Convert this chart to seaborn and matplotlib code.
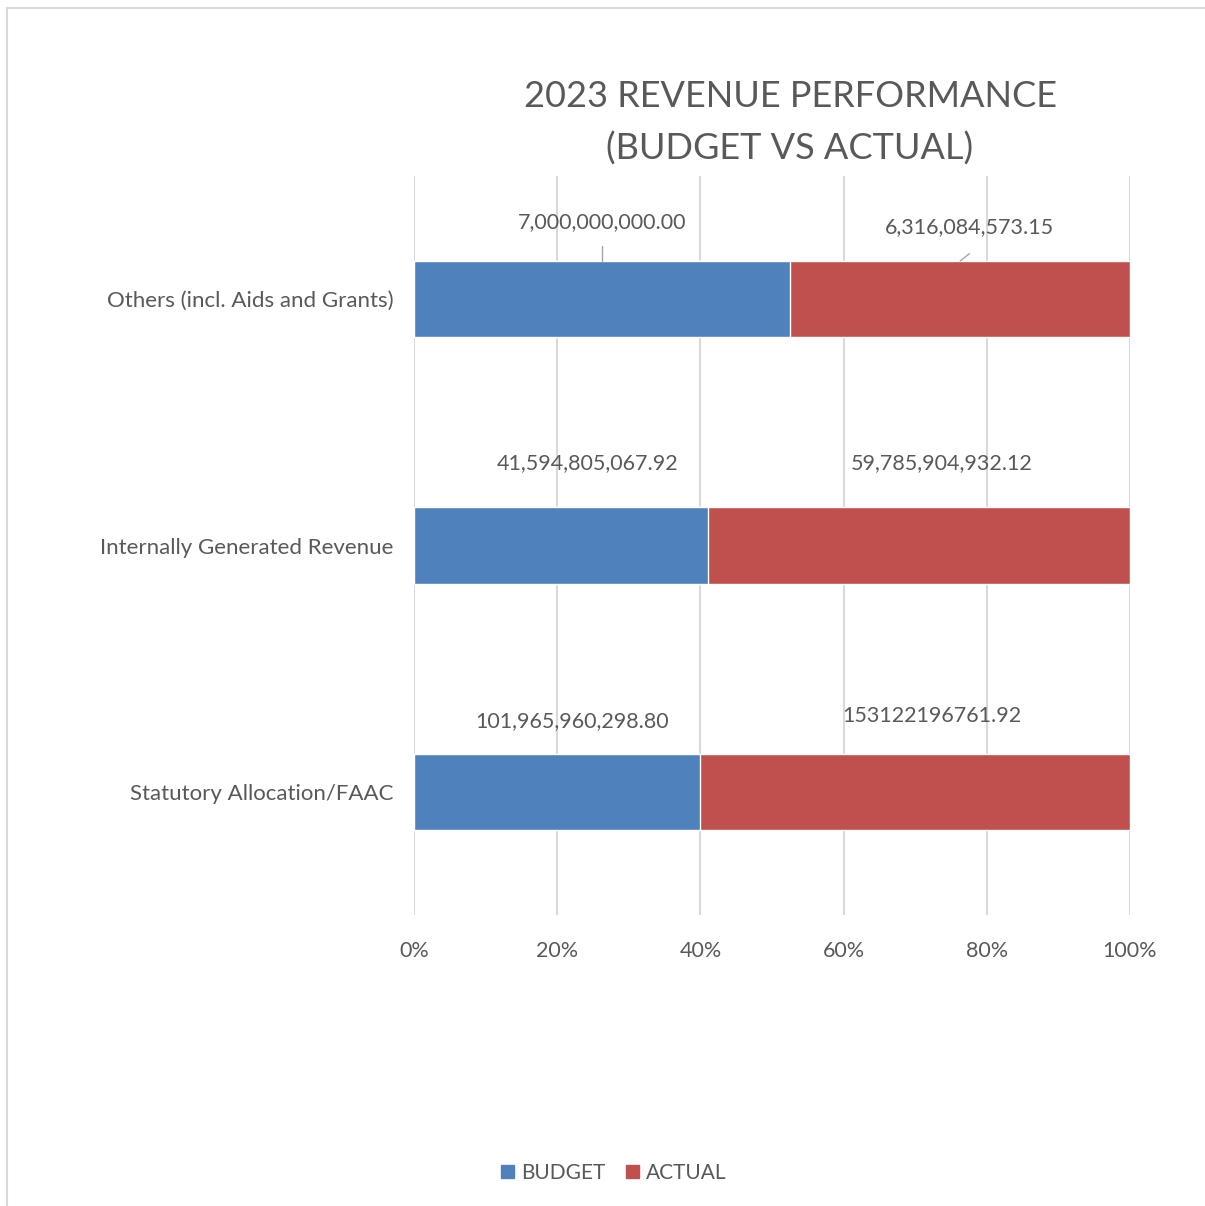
import matplotlib
matplotlib.use("Agg")
import matplotlib.pyplot as plt
import matplotlib.lines as mlines
import matplotlib.patches as mpatches
import seaborn as sns
import pandas as pd

categories = ["Others (incl. Aids and Grants)", "Internally Generated Revenue", "Statutory Allocation/FAAC"]
budget = [7000000000.00, 41594805067.92, 101965960298.80]
actual = [6316084573.15, 59785904932.12, 153122196761.92]
budget_labels = ["7,000,000,000.00", "41,594,805,067.92", "101,965,960,298.80"]
actual_labels = ["6,316,084,573.15", "59,785,904,932.12", "153122196761.92"]
ticks = [0, 20, 40, 60, 80, 100]

BLUE = "#4f81bd"
RED = "#c0504d"
TXT = "#595959"
GRID = "#d9d9d9"

df = pd.DataFrame({"category": categories, "budget": budget, "actual": actual})
df["total"] = df["budget"] + df["actual"]
df["budget_pct"] = df["budget"] / df["total"] * 100
df["full"] = 100.0

sns.set_theme(style="white")
plt.rcParams["font.family"] = ["Lato", "DejaVu Sans"]

fig = plt.figure(figsize=(12.05, 12.06), dpi=100)
ax = fig.add_axes([414 / 1205, 1 - 915 / 1206, 716 / 1205, 739 / 1206])

sns.barplot(data=df, x="full", y="category", color=RED, width=0.31, orient="h",
            saturation=1, ax=ax, zorder=3)
sns.barplot(data=df, x="budget_pct", y="category", color=BLUE, width=0.31, orient="h",
            saturation=1, ax=ax, zorder=4)

ax.set_xlim(0, 100)
ax.set_ylim(2.5, -0.5)
ax.set_xticks(ticks)
ax.set_xticklabels([f"{t}%" for t in ticks], fontsize=15.5, color=TXT)
ax.tick_params(axis="x", length=0, pad=19)
ax.tick_params(axis="y", length=0, pad=15, labelsize=16, labelcolor=TXT)
ax.set_xlabel("")
ax.set_ylabel("")
ax.grid(axis="x", color=GRID, linewidth=1.5, zorder=0)
for s in ax.spines.values():
    s.set_visible(False)

# data labels above each segment, placed as in the reference
half = 0.155
lbl = dict(ha="center", va="center", fontsize=15.5, color=TXT)
for i, row in df.iterrows():
    bp = row["budget_pct"]
    bx = bp / 2
    mid_actual = (bp + 100) / 2
    if i == 0:
        ax.text(26.3, i - half - 0.158, budget_labels[i], **lbl)
        ax.plot([bx, bx], [i - half - 0.062, i - half], color="#a6a6a6", lw=1, zorder=5)
        ax.text(77.6, i - half - 0.138, actual_labels[i], **lbl)
        ax.plot([mid_actual + 1.3, mid_actual], [i - half - 0.03, i - half], color="#a6a6a6", lw=1, zorder=5)
    elif i == 1:
        ax.text(24.2, i - half - 0.178, budget_labels[i], **lbl)
        ax.text(73.7, i - half - 0.178, actual_labels[i], **lbl)
    else:
        ax.text(22.1, i - half - 0.134, budget_labels[i], **lbl)
        ax.text(72.3, i - half - 0.154, actual_labels[i], **lbl)

fig.text(790 / 1205, 1 - 123 / 1206, "2023 REVENUE PERFORMANCE\n(BUDGET VS ACTUAL)",
         ha="center", va="center", fontsize=26, color=TXT, linespacing=1.65)

handles = [mpatches.Patch(color=BLUE, label="BUDGET"), mpatches.Patch(color=RED, label="ACTUAL")]
fig.legend(handles=handles, loc="center", bbox_to_anchor=(614 / 1205, 1 - 1173 / 1206), ncol=2,
           frameon=False, fontsize=15, labelcolor=TXT, handlelength=0.6, handleheight=0.6,
           handletextpad=0.35, columnspacing=1.0)

# chart border (top and left visible in the reference)
fig.add_artist(mlines.Line2D([7 / 1205, 1], [1 - 8 / 1206, 1 - 8 / 1206], color=GRID, lw=1.5,
                             transform=fig.transFigure))
fig.add_artist(mlines.Line2D([7 / 1205, 7 / 1205], [0, 1 - 8 / 1206], color=GRID, lw=1.5,
                             transform=fig.transFigure))

fig.savefig("out.png", dpi=100)
